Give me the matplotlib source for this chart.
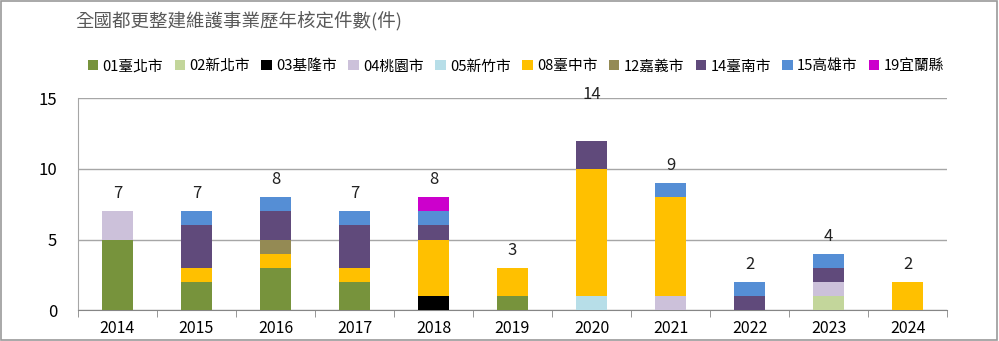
import numpy as np
import matplotlib
matplotlib.use('Agg')
import matplotlib.pyplot as plt
from matplotlib.patches import Rectangle

plt.rcParams['font.family'] = ['Noto Sans CJK TC', 'DejaVu Sans']

# Data
years = ['2014', '2015', '2016', '2017', '2018', '2019', '2020', '2021', '2022', '2023', '2024']
cities = ['01臺北市', '02新北市', '03基隆市', '04桃園市', '05新竹市',
          '08臺中市', '12嘉義市', '14臺南市', '15高雄市', '19宜蘭縣']
taipei    = [5, 2, 3, 2, 0, 1, 0, 0, 0, 0, 0]
newtaipei = [0, 0, 0, 0, 0, 0, 0, 0, 0, 1, 0]
keelung   = [0, 0, 0, 0, 1, 0, 0, 0, 0, 0, 0]
taoyuan   = [2, 0, 0, 0, 0, 0, 0, 1, 0, 1, 0]
hsinchu   = [0, 0, 0, 0, 0, 0, 1, 0, 0, 0, 0]
taichung  = [0, 1, 1, 1, 4, 2, 9, 7, 0, 0, 2]
chiayi    = [0, 0, 1, 0, 0, 0, 0, 0, 0, 0, 0]
tainan    = [0, 3, 2, 3, 1, 0, 2, 0, 1, 1, 0]
kaohsiung = [0, 1, 1, 1, 1, 0, 0, 1, 1, 1, 0]
yilan     = [0, 0, 0, 0, 1, 0, 0, 0, 0, 0, 0]
totals    = [7, 7, 8, 7, 8, 3, 14, 9, 2, 4, 2]

series = [taipei, newtaipei, keelung, taoyuan, hsinchu,
          taichung, chiayi, tainan, kaohsiung, yilan]
colors = ['#77933C', '#C3D69B', '#000000', '#CCC1DA', '#B7DEE8',
          '#FFC000', '#948A54', '#604A7B', '#558ED5', '#CC00CC']

fig = plt.figure(figsize=(9.99, 3.41), dpi=100)
ax = fig.add_axes([0.078, 0.09, 0.870, 0.622])

x = np.arange(len(years))
bottom = np.zeros(len(years))
for vals, name, col in zip(series, cities, colors):
    ax.bar(x, vals, 0.4, bottom=bottom, color=col, label=name, zorder=3)
    bottom += np.array(vals)

for xi, t in zip(x, totals):
    ax.text(xi, t + 1.25, str(t), ha='center', va='center', fontsize=12, color='#222222')

ax.set_xlim(-0.5, len(years) - 0.5)
ax.set_ylim(0, 15)
ax.set_yticks([0, 5, 10, 15])
ax.yaxis.grid(True, color='#A6A6A6', linewidth=1, zorder=0)
ax.set_xticks(x)
ax.set_xticklabels(years)
ax.set_xticks(np.arange(-0.5, len(years)), minor=True)
ax.tick_params(axis='x', which='major', length=0, labelsize=11.5, pad=7)
ax.tick_params(axis='x', which='minor', length=5, color='#868686')
ax.tick_params(axis='y', length=0, labelsize=12, pad=15)
for s in ['top', 'right']:
    ax.spines[s].set_visible(False)
ax.spines['left'].set_color('#A6A6A6')
ax.spines['bottom'].set_color('#868686')

fig.text(0.075, 0.94, '全國都更整建維護事業歷年核定件數(件)', fontsize=13.3,
         color='#595959', va='center')

handles, labels = ax.get_legend_handles_labels()
fig.legend(handles, labels, loc='center left', bbox_to_anchor=(0.082, 0.805),
           ncol=10, frameon=False, fontsize=10.6, handlelength=0.7, handleheight=0.7,
           handletextpad=0.3, columnspacing=0.78, borderaxespad=0)

fig.patches.append(Rectangle((0.001, 0.002), 0.997, 0.995, transform=fig.transFigure,
                             fill=False, edgecolor='#9A9A9A', linewidth=1.2))

fig.savefig('out.png', dpi=100)
